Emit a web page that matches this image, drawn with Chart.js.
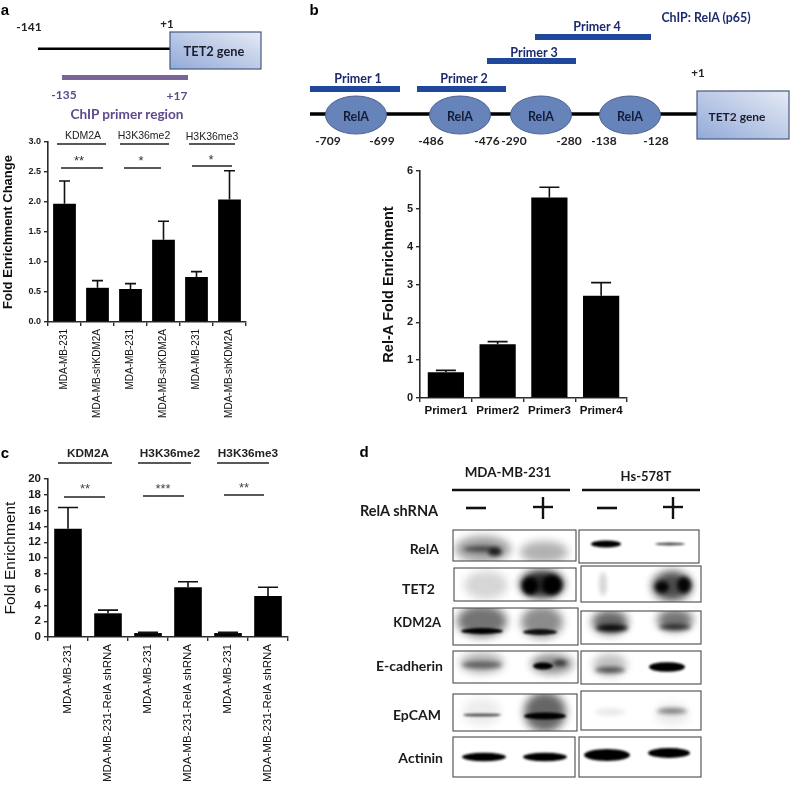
<!DOCTYPE html>
<html>
<head>
<meta charset="utf-8">
<title>ChIP panels</title>
<script src="https://cdn.jsdelivr.net/npm/chart.js@4"></script>
<style>
html, body { margin: 0; padding: 0; background: #fff; overflow: hidden; }
#page { position: absolute; left: 0; top: 0; width: 791px; height: 786px; overflow: hidden; filter: blur(0.35px); }
#page canvas, #page svg { position: absolute; }
</style>
</head>
<body>
<div id="page">
  <canvas id="chartA" width="260" height="300" style="left:0;top:125px"></canvas>
  <canvas id="chartB" width="270" height="270" style="left:370px;top:155px"></canvas>
  <canvas id="chartC" width="300" height="340" style="left:0;top:465px"></canvas>
  <svg id="art" width="791" height="786" style="left:0;top:0"></svg>
</div>
<script>
// panel a
const labelsA = ["MDA-MB-231", "MDA-MB-shKDM2A", "MDA-MB-231", "MDA-MB-shKDM2A", "MDA-MB-231", "MDA-MB-shKDM2A"];
const valuesA = [1.97, 0.57, 0.55, 1.37, 0.75, 2.04];
const errorsA = [2.35, 0.69, 0.64, 1.68, 0.84, 2.52];
const ticksA = [0, 0.5, 1, 1.5, 2, 2.5, 3];

// panel b
const labelsB = ["Primer1", "Primer2", "Primer3", "Primer4"];
const valuesB = [0.68, 1.42, 5.3, 2.7];
const errorsB = [0.73, 1.49, 5.57, 3.05];
const ticksB = [0, 1, 2, 3, 4, 5, 6];

// panel c
const labelsC = ["MDA-MB-231", "MDA-MB-231-RelA shRNA", "MDA-MB-231", "MDA-MB-231-RelA shRNA", "MDA-MB-231", "MDA-MB-231-RelA shRNA"];
const valuesC = [13.7, 3.0, 0.5, 6.3, 0.5, 5.2];
const errorsC = [16.4, 3.4, 0.6, 7.0, 0.6, 6.3];
const ticksC = [0, 2, 4, 6, 8, 10, 12, 14, 16, 18, 20];

const SANS = '"Liberation Sans", Arial, sans-serif';
const LATO = 'Lato, "Noto Sans", sans-serif';
const AXIS = "#2b2b2b";

// upper whisker only, the way the figure has it
const whiskers = {
  id: "whiskers",
  afterDatasetsDraw(chart, args, opts) {
    const ctx = chart.ctx, x = chart.scales.x, y = chart.scales.y;
    ctx.save();
    ctx.strokeStyle = "#111";
    ctx.lineWidth = opts.width;
    opts.tops.forEach((top, i) => {
      const px = x.getPixelForValue(i);
      const from = y.getPixelForValue(chart.data.datasets[0].data[i]);
      const to = y.getPixelForValue(top);
      ctx.beginPath();
      ctx.moveTo(px, from); ctx.lineTo(px, to);
      ctx.moveTo(px - opts.cap, to); ctx.lineTo(px + opts.cap, to);
      ctx.stroke();
    });
    ctx.restore();
  }
};

function barChart(id, labels, values, tops, yTicks, o) {
  const canvas = document.getElementById(id);
  new Chart(canvas, {
    type: "bar",
    data: { labels: labels, datasets: [{ data: values, backgroundColor: "#000", barPercentage: o.bar, categoryPercentage: 1 }] },
    plugins: [whiskers],
    options: {
      responsive: false,
      animation: false,
      devicePixelRatio: 1,
      layout: { padding: { top: o.top, right: canvas.width - o.right, left: 0, bottom: 0 } },
      plugins: {
        legend: { display: false },
        tooltip: { enabled: false },
        whiskers: { tops: tops, cap: o.cap, width: 1.6 }
      },
      scales: {
        x: {
          type: "category",
          afterFit(s) { s.height = canvas.height - o.bottom; },
          grid: { drawOnChartArea: false, color: AXIS, tickColor: AXIS, tickLength: 4, lineWidth: 1.4 },
          border: { color: AXIS, width: 1.6 },
          ticks: {
            autoSkip: false, minRotation: o.xRot, maxRotation: o.xRot, padding: o.xPad, color: "#111",
            font: { family: SANS, size: o.xSize, weight: o.xWeight }
          }
        },
        y: {
          min: yTicks[0], max: yTicks[yTicks.length - 1],
          afterFit(s) { s.width = o.left; },
          afterBuildTicks(s) { s.ticks = yTicks.map(v => ({ value: v })); },
          grid: { drawOnChartArea: false, color: AXIS, tickColor: AXIS, tickLength: 4, lineWidth: 1.4 },
          border: { color: AXIS, width: 1.6 },
          title: { display: true, text: o.title, color: "#111", padding: { top: o.titleGap, bottom: 0 }, font: { family: SANS, size: o.titleSize, weight: o.titleWeight } },
          ticks: {
            autoSkip: false, padding: 3, color: "#1a1a1a", font: { family: SANS, size: o.ySize, weight: "bold" },
            callback: o.yFmt
          }
        }
      }
    }
  });
}

barChart("chartA", labelsA, valuesA, errorsA, ticksA, {
  left: 48, right: 246, top: 17, bottom: 197, bar: 0.69, cap: 5.5,
  xRot: 90, xPad: 3, xSize: 10, xWeight: "normal", ySize: 9, yFmt: v => v.toFixed(1),
  title: "Fold Enrichment Change", titleSize: 13, titleWeight: "bold", titleGap: 1
});
barChart("chartB", labelsB, valuesB, errorsB, ticksB, {
  left: 50, right: 257, top: 16, bottom: 243, bar: 0.7, cap: 10,
  xRot: 0, xPad: 2, xSize: 11.5, xWeight: "bold", ySize: 11, yFmt: v => v,
  title: "Rel-A Fold Enrichment", titleSize: 14.5, titleWeight: "bold", titleGap: 10
});
barChart("chartC", labelsC, valuesC, errorsC, ticksC, {
  left: 48, right: 288, top: 14, bottom: 172, bar: 0.69, cap: 10,
  xRot: 90, xPad: 3, xSize: 11.5, xWeight: "normal", ySize: 11.5, yFmt: v => v,
  title: "Fold Enrichment", titleSize: 15.5, titleWeight: "normal", titleGap: 1
});

// everything that is not a bar: schematics, brackets, blots
const svg = document.getElementById("art");
const NS = "http://www.w3.org/2000/svg";
function el(name, attrs, parent) {
  const e = document.createElementNS(NS, name);
  for (const k in attrs) e.setAttribute(k, attrs[k]);
  (parent || svg).appendChild(e);
  return e;
}
function line(x1, y1, x2, y2, color, w) {
  el("line", { x1: x1, y1: y1, x2: x2, y2: y2, stroke: color, "stroke-width": w });
}
function text(str, x, y, font, size, weight, color, anchor) {
  const t = el("text", { x: x, y: y, "font-family": font, "font-size": size, "font-weight": weight, fill: color, "text-anchor": anchor || "middle", "dominant-baseline": "central" });
  t.textContent = str;
}

const defs = el("defs", {});
const grad = el("linearGradient", { id: "geneFill", x1: 0, y1: 1, x2: 1, y2: 0 }, defs);
el("stop", { offset: "0", "stop-color": "#92a9d8" }, grad);
el("stop", { offset: "1", "stop-color": "#e6ebf5" }, grad);
[["tight", 1], ["soft", 2], ["hazy", 4]].forEach(f => {
  const flt = el("filter", { id: f[0], x: "-50%", y: "-100%", width: "200%", height: "300%" }, defs);
  el("feGaussianBlur", { stdDeviation: f[1] }, flt);
});

// panel letters
text("a", 5, 9, SANS, 15, "bold", "#000");
text("b", 314, 9, SANS, 15, "bold", "#000");
text("c", 5, 452, SANS, 15, "bold", "#000");
text("d", 364, 451, SANS, 15, "bold", "#000");

// a, schematic
const PURPLE = "#5d4a8c";
text("-141", 29, 26, LATO, 12, "bold", "#222");
text("+1", 167, 23, LATO, 11.5, "bold", "#222");
line(38, 48.7, 170, 48.7, "#000", 2.6);
el("rect", { x: 170, y: 32, width: 91, height: 37, fill: "url(#geneFill)", stroke: "#46597f", "stroke-width": 1.2 });
text("TET2 gene", 214, 51, LATO, 12.8, "bold", "#1c1c2c");
el("rect", { x: 62, y: 75, width: 126, height: 5, fill: "#7a6498" });
text("-135", 64, 94, LATO, 12, "bold", PURPLE);
text("+17", 177, 95, LATO, 12, "bold", PURPLE);
text("ChIP primer region", 127, 114, LATO, 13.6, "bold", PURPLE);

// a, brackets
[["KDM2A", 83, 135], ["H3K36me2", 144, 135], ["H3K36me3", 212, 136]].forEach(h => text(h[0], h[1], h[2], SANS, 10.5, "normal", "#222"));
[[57, 106, 144], [120, 169, 144], [189, 235, 144], [61, 103, 168], [124, 161, 168], [192, 232, 166]].forEach(b => line(b[0], b[2], b[1], b[2], "#222", 1.3));
[["**", 79, 160], ["*", 141, 160], ["*", 211, 159]].forEach(s => text(s[0], s[1], s[2], SANS, 13, "normal", "#333"));

// b, schematic
const NAVY = "#1d2a6e";
text("ChIP: RelA (p65)", 706, 17, LATO, 12.4, "bold", NAVY);
[["Primer 1", 358, 78, 310, 400, 86], ["Primer 2", 464, 78, 417, 506, 86], ["Primer 3", 534, 52, 487, 576, 58], ["Primer 4", 597, 26, 535, 651, 34]].forEach(p => {
  text(p[0], p[1], p[2], LATO, 12.5, "bold", NAVY);
  el("rect", { x: p[3], y: p[5], width: p[4] - p[3], height: 6, fill: "#1f479c" });
});
text("+1", 698, 72, LATO, 11.5, "bold", "#222");
line(310, 114, 697, 114, "#000", 3.6);
el("rect", { x: 697, y: 91, width: 92, height: 48, fill: "url(#geneFill)", stroke: "#46597f", "stroke-width": 1.2 });
text("TET2 gene", 737, 116, LATO, 12, "bold", "#1c1c2c");
[356, 460, 541, 630].forEach(cx => {
  el("ellipse", { cx: cx, cy: 115, rx: 30.5, ry: 19, fill: "#6683ba", stroke: "#4d6291", "stroke-width": 1 });
  text("RelA", cx, 116, LATO, 12.5, "bold", "#141c38");
});
[["-709", 328], ["-699", 382], ["-486", 431], ["-476", 487], ["-290", 514], ["-280", 569], ["-138", 604], ["-128", 656]].forEach(n => text(n[0], n[1], 140, LATO, 12, "bold", "#222"));

// c, brackets
[["KDM2A", 88, 453], ["H3K36me2", 170, 453], ["H3K36me3", 248, 453]].forEach(h => text(h[0], h[1], h[2], SANS, 11.8, "bold", "#222"));
[[58, 112, 463], [138, 191, 463], [217, 269, 463], [64, 105, 497], [143, 184, 496], [224, 264, 495]].forEach(b => line(b[0], b[2], b[1], b[2], "#222", 1.4));
[["**", 85, 488], ["***", 163, 488], ["**", 244, 487]].forEach(s => text(s[0], s[1], s[2], SANS, 13, "normal", "#444"));

// d, header
text("MDA-MB-231", 508, 472, LATO, 13.4, "bold", "#1a1a1a");
text("Hs-578T", 646, 476, LATO, 13, "bold", "#1a1a1a");
line(452, 490, 570, 490, "#111", 2.4);
line(582, 490, 700, 490, "#111", 2.4);
text("RelA  shRNA", 399, 510, LATO, 14.5, "bold", "#1a1a1a");
[[466, 486, 508], [597, 617, 508]].forEach(m => line(m[0], m[2], m[1], m[2], "#111", 2.6));
[[543, 507], [673, 507]].forEach(p => {
  line(p[0] - 10, p[1], p[0] + 10, p[1], "#111", 2.4);
  line(p[0], p[1] - 10, p[0], p[1] + 12, "#111", 2.4);
});

// d, blots: box, then smears as [cx, cy, rx, ry, darkness, blur]
const blotRows = [
  { name: "RelA", size: 14, nx: 439, ny: 548, boxes: [
    { x: 453, y: 530, w: 123, h: 31, bands: [[483, 549, 28, 13, .38, "hazy"], [544, 552, 24, 11, .3, "hazy"], [482, 549, 18, 3, .55, "soft"], [495, 552, 7, 4, .8, "soft"]] },
    { x: 579, y: 530, w: 120, h: 33, bands: [[606, 544, 15, 3.6, 1, "tight"], [670, 544, 15, 1.5, .7, "tight"]] } ] },
  { name: "TET2", size: 14, nx: 435, ny: 588, boxes: [
    { x: 454, y: 568, w: 122, h: 33, bands: [[486, 585, 22, 14, .16, "hazy"], [542, 584, 22, 14, .85, "hazy"], [530, 586, 8, 9, 1, "soft"], [552, 585, 10, 10, 1, "soft"]] },
    { x: 581, y: 566, w: 120, h: 36, bands: [[603, 584, 4, 12, .16, "soft"], [672, 586, 20, 15, .7, "hazy"], [662, 587, 7, 6, .95, "soft"], [684, 585, 7, 8, .95, "soft"]] } ] },
  { name: "KDM2A", size: 13, nx: 441, ny: 622, boxes: [
    { x: 453, y: 608, w: 125, h: 37, bands: [[482, 621, 25, 16, .55, "hazy"], [542, 622, 21, 16, .45, "hazy"], [482, 631, 21, 3, 1, "tight"], [540, 632, 17, 3, .9, "tight"]] },
    { x: 581, y: 611, w: 120, h: 33, bands: [[610, 622, 18, 12, .6, "hazy"], [675, 620, 18, 11, .55, "hazy"], [612, 628, 16, 3.5, .95, "soft"], [675, 627, 16, 3, .7, "soft"]] } ] },
  { name: "E-cadherin", size: 14, nx: 443, ny: 665, boxes: [
    { x: 453, y: 651, w: 125, h: 32, bands: [[482, 663, 22, 10, .32, "hazy"], [482, 665, 20, 3.5, .45, "soft"], [552, 664, 21, 10, .45, "hazy"], [543, 666, 10, 3.5, 1, "tight"], [560, 663, 7, 3, .65, "soft"]] },
    { x: 581, y: 651, w: 120, h: 33, bands: [[610, 665, 17, 11, .25, "hazy"], [610, 670, 15, 3, .6, "soft"], [667, 667, 18, 4.8, 1, "tight"]] } ] },
  { name: "EpCAM", size: 14, nx: 441, ny: 714, boxes: [
    { x: 453, y: 694, w: 124, h: 37, bands: [[482, 715, 19, 1.6, .65, "tight"], [482, 712, 19, 14, .07, "hazy"], [545, 712, 21, 20, .6, "hazy"], [545, 716, 21, 3.6, 1, "tight"]] },
    { x: 581, y: 691, w: 120, h: 39, bands: [[610, 712, 15, 4, .08, "soft"], [672, 711, 15, 3, .45, "soft"], [672, 714, 17, 11, .08, "hazy"]] } ] },
  { name: "Actinin", size: 14, nx: 443, ny: 757, boxes: [
    { x: 453, y: 737, w: 122, h: 40, bands: [[484, 757, 22, 4.2, 1, "tight"], [545, 757, 22, 4.2, 1, "tight"]] },
    { x: 579, y: 737, w: 122, h: 40, bands: [[607, 755, 23, 6, 1, "tight"], [669, 753, 21, 5, 1, "tight"]] } ] }
];

blotRows.forEach(row => {
  text(row.name, row.nx, row.ny, LATO, row.size, "bold", "#1a1a1a", "end");
  row.boxes.forEach(b => {
    const inner = el("svg", { x: b.x, y: b.y, width: b.w, height: b.h, viewBox: b.x + " " + b.y + " " + b.w + " " + b.h });
    b.bands.forEach(s => el("ellipse", { cx: s[0], cy: s[1], rx: s[2], ry: s[3], fill: "#000", opacity: s[4], filter: "url(#" + s[5] + ")" }, inner));
    el("rect", { x: b.x, y: b.y, width: b.w, height: b.h, fill: "none", stroke: "#4a4a4a", "stroke-width": 1.1 });
  });
});
</script>
</body>
</html>
